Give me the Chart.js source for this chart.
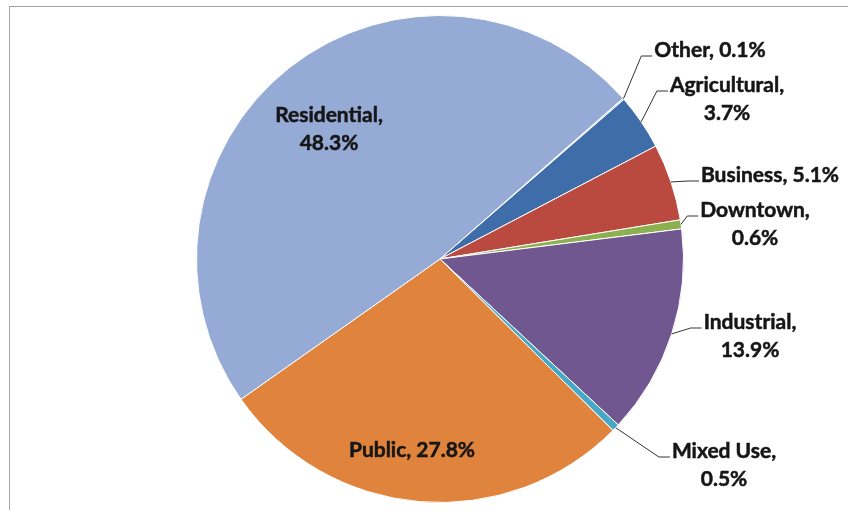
<!DOCTYPE html>
<html>
<head>
<meta charset="utf-8">
<script src="https://cdn.jsdelivr.net/npm/chart.js@4/dist/chart.umd.min.js"></script>
<style>
    html, body { margin: 0; padding: 0; background: #ffffff; }
    #wrap { position: relative; width: 848px; height: 510px; overflow: hidden; }
    #frame {
        position: absolute; left: 9px; top: 6px; width: 900px; height: 600px;
        border: 1px solid #a3a3a3; box-sizing: border-box;
    }
    canvas { position: absolute; left: 0; top: 0; }
</style>
</head>
<body>
<div id="wrap">
    <div id="frame"></div>
    <canvas id="chart" width="848" height="510"></canvas>
</div>
<script>
// land use shares, in percent
const categories = ["Other", "Agricultural", "Business", "Downtown", "Industrial", "Mixed Use", "Public", "Residential"];
const shares = [0.1, 3.7, 5.1, 0.6, 13.9, 0.5, 27.8, 48.3];
const sliceColors = ["#b7c7e0", "#3e6daa", "#ba4a40", "#8cb050", "#70578f", "#46a7c6", "#e0843d", "#95aad5"];

// where each data label sits (centre of the text block) and whether it wraps
const labelSpots = [
    { x: 710, y: 50, wrap: false, leader: true },
    { x: 727, y: 99, wrap: true, leader: true },
    { x: 770, y: 175, wrap: false, leader: true },
    { x: 755, y: 224, wrap: true, leader: true },
    { x: 750, y: 336, wrap: true, leader: true },
    { x: 724, y: 465, wrap: true, leader: true },
    { x: 412, y: 450, wrap: false, leader: false },
    { x: 329, y: 129, wrap: true, leader: false }
];

const LINE_H = 28;
const FONT = "bold 21px Lato";

const pieLabels = {
    id: "pieLabels",
    afterDatasetsDraw(chart) {
        const ctx = chart.ctx;
        const arcs = chart.getDatasetMeta(0).data;
        ctx.save();
        ctx.font = FONT;
        ctx.textAlign = "center";
        ctx.textBaseline = "middle";
        arcs.forEach((arc, i) => {
            const spot = labelSpots[i];
            const text = categories[i] + ", " + shares[i].toFixed(1) + "%";
            const lines = spot.wrap ? [categories[i] + ",", shares[i].toFixed(1) + "%"] : [text];
            const top = spot.y - (lines.length - 1) * LINE_H / 2;

            if (spot.leader) {
                const widest = Math.max(...lines.map(l => ctx.measureText(l).width));
                const left = spot.x - widest / 2;
                const ay = top + 6;
                const mid = (arc.startAngle + arc.endAngle) / 2;
                const sx = arc.x + Math.cos(mid) * arc.outerRadius;
                const sy = arc.y + Math.sin(mid) * arc.outerRadius;
                ctx.strokeStyle = "#333333";
                ctx.lineWidth = 1;
                ctx.beginPath();
                ctx.moveTo(sx, sy);
                ctx.lineTo(left - 13, ay);
                ctx.lineTo(left - 2, ay);
                ctx.stroke();
            }

            // a light outline makes the bold face a touch heavier
            ctx.fillStyle = "#161616";
            ctx.strokeStyle = "#161616";
            ctx.lineWidth = 0.5;
            lines.forEach((l, k) => {
                ctx.fillText(l, spot.x, top + k * LINE_H);
                ctx.strokeText(l, spot.x, top + k * LINE_H);
            });
        });
        ctx.restore();
    }
};

new Chart(document.getElementById("chart").getContext("2d"), {
    type: "pie",
    data: {
        labels: categories,
        datasets: [{
            data: shares,
            backgroundColor: sliceColors,
            borderColor: "#ffffff",
            borderWidth: 1
        }]
    },
    options: {
        responsive: false,
        animation: false,
        rotation: 48.7,
        layout: { padding: { left: 196, right: 164, top: 15, bottom: 7 } },
        plugins: {
            legend: { display: false },
            tooltip: { enabled: false }
        }
    },
    plugins: [pieLabels]
});
</script>
</body>
</html>
